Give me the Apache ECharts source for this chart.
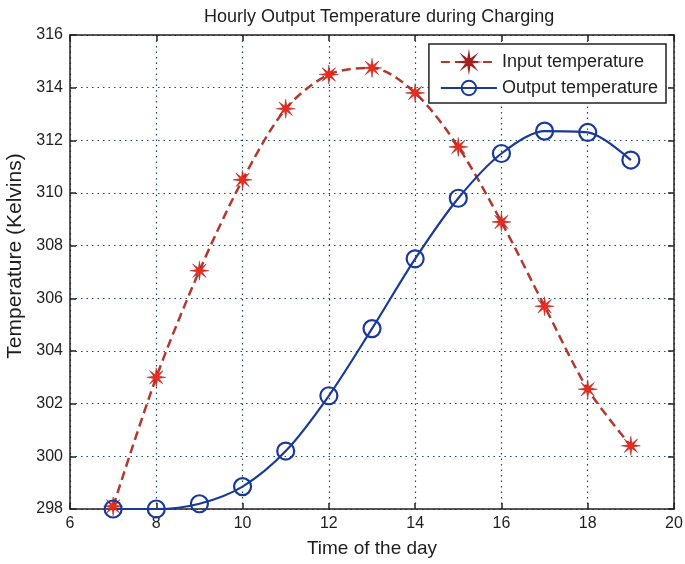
<!DOCTYPE html>
<html><head><meta charset="utf-8">
<script src="https://cdn.jsdelivr.net/npm/echarts@6/dist/echarts.min.js"></script>
<style>html,body{margin:0;padding:0;background:#fff}#c{width:685px;height:564px}</style>
</head><body><div id="c"></div>
<script>
var hours = [7, 8, 9, 10, 11, 12, 13, 14, 15, 16, 17, 18, 19];
var inputTemp = [298.1, 303.0, 307.05, 310.5, 313.2, 314.5, 314.75, 313.8, 311.75, 308.9, 305.7, 302.55, 300.4];
var outputTemp = [298.0, 298.0, 298.2, 298.85, 300.2, 302.3, 304.85, 307.5, 309.8, 311.5, 312.35, 312.3, 311.25];
var xTicks = [6, 8, 10, 12, 14, 16, 18, 20];
var yTicks = [298, 300, 302, 304, 306, 308, 310, 312, 314, 316];

function starPath(){
  var pts=[];
  for(var i=0;i<16;i++){
    var r = i%2===0 ? 10 : 3;
    var a = Math.PI*i/8 - Math.PI/2;
    pts.push((10+r*Math.cos(a)).toFixed(2)+' '+(10+r*Math.sin(a)).toFixed(2));
  }
  return 'path://M'+pts.join(' L')+' Z';
}
var font = 'Liberation Sans, Arial, sans-serif';
var txt = '#1e1e1e';
var chart = echarts.init(document.getElementById('c'));
var axisCommon = {
  axisLine:{show:true,onZero:false,lineStyle:{color:'#222',width:1.5}},
  axisTick:{show:true,inside:true,length:6,lineStyle:{color:'#222',width:1.5}}
};
var gridLine = {show:true,lineStyle:{type:[1.5,4],color:'#1a4a6a',width:1.2}};
chart.setOption({
  animation:false,
  title:{text:'Hourly Output Temperature during Charging',left:199,top:3,
    textStyle:{fontFamily:font,fontSize:18,fontWeight:'normal',color:txt}},
  grid:{left:70,right:11,top:35,bottom:55,containLabel:false,outerBoundsMode:'none'},
  legend:{
    orient:'vertical', right:19, top:44, itemWidth:56, itemHeight:18, itemGap:8,
    backgroundColor:'#fff', borderColor:'#222', borderWidth:1.5, padding:[9,8,6,11],
    textStyle:{fontFamily:font,fontSize:18,color:txt},
    data:['Input temperature','Output temperature']
  },
  xAxis:[
    Object.assign({type:'value',min:6,max:20,interval:2,name:'Time of the day',nameLocation:'middle',nameGap:30,
      nameTextStyle:{fontFamily:font,fontSize:19,color:txt},
      axisLabel:{fontFamily:font,fontSize:16,color:txt,margin:7},
      splitLine:gridLine},axisCommon),
    Object.assign({type:'value',position:'top',min:6,max:20,interval:2,axisLabel:{show:false},splitLine:{show:false}},axisCommon)
  ],
  yAxis:[
    Object.assign({type:'value',min:298,max:316,interval:2,name:'Temperature (Kelvins)',nameLocation:'middle',nameGap:41,
      nameTextStyle:{fontFamily:font,fontSize:21,color:txt,padding:[0,0,0,32]},
      axisLabel:{fontFamily:font,fontSize:16,color:txt,margin:7},
      splitLine:gridLine},axisCommon),
    Object.assign({type:'value',position:'right',min:298,max:316,interval:2,axisLabel:{show:false},splitLine:{show:false}},axisCommon)
  ],
  series:[
    {name:'Input temperature',type:'line',smooth:0.3,
      data:hours.map(function(h,i){return [h,inputTemp[i]];}),
      symbol:starPath(),symbolSize:19,
      itemStyle:{color:'#ee2a1a',borderColor:'#a02020',borderWidth:0.5},
      lineStyle:{color:'#b03a30',width:2.5,type:[9,5]}},
    {name:'Output temperature',type:'line',smooth:0.3,
      data:hours.map(function(h,i){return [h,outputTemp[i]];}),
      symbol:'circle',symbolSize:17,
      itemStyle:{color:'rgba(255,255,255,0)',borderColor:'#1a3a9a',borderWidth:2.2},
      lineStyle:{color:'#1a3a9a',width:2.2}}
  ]
});
</script></body></html>
